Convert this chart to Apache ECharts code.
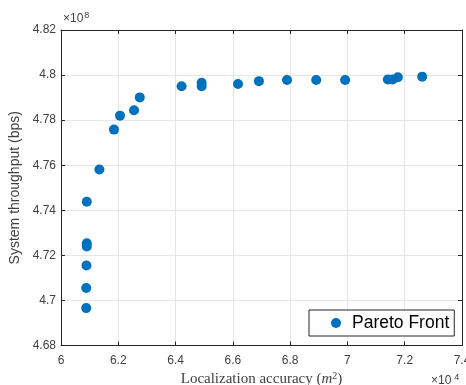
<!DOCTYPE html>
<html>
<head>
<meta charset="utf-8">
<script src="https://cdn.jsdelivr.net/npm/echarts@6/dist/echarts.min.js"></script>
<style>
  html, body { margin: 0; padding: 0; background: #fff; }
  #main { width: 466px; height: 385px; }
</style>
</head>
<body>
<div id="main"></div>
<script>
// localization accuracy (x 10^4 m^2) and throughput (x 10^8 bps)
var accuracy = [6.090, 6.090, 6.090, 6.089, 6.088, 6.088, 6.134, 6.185, 6.206, 6.255, 6.275,
                6.421, 6.491, 6.491, 6.618, 6.691, 6.789, 6.891, 6.992, 7.141, 7.158, 7.176, 7.261];
var throughput = [4.7438, 4.7254, 4.7239, 4.7155, 4.7055, 4.6966, 4.7581, 4.7758, 4.7820, 4.7844, 4.7901,
                  4.7950, 4.7966, 4.7950, 4.7960, 4.7973, 4.7978, 4.7978, 4.7978, 4.7980, 4.7980, 4.7990, 4.7993];
var xTicks = [6, 7.4, 0.2];   // min, max, step
var yTicks = [4.68, 4.82, 0.02];
var seriesName = 'Pareto Front';

var points = accuracy.map(function (x, i) { return [x, throughput[i]]; });

var myChart = echarts.init(document.getElementById('main'));
var axisCol = '#262626';
var labelCol = '#404040';
var fmt = function (v) { return String(parseFloat(v.toFixed(2))); };

var option = {
    animation: false,
    grid: { left: 61, right: 4, top: 30, bottom: 39.5, containLabel: false, outerBoundsMode: 'none' },
    xAxis: [{
        type: 'value',
        min: xTicks[0], max: xTicks[1], interval: xTicks[2],
        position: 'bottom',
        axisLine: { show: true, onZero: false, lineStyle: { color: axisCol, width: 1 } },
        axisTick: { show: true, inside: true, length: 4, lineStyle: { color: axisCol } },
        splitLine: { show: true, lineStyle: { color: '#e6e6e6', width: 1 } },
        axisLabel: { formatter: fmt, color: labelCol, fontSize: 12, margin: 9, fontFamily: 'Liberation Sans', showMaxLabel: true, showMinLabel: true },
        name: '{n|Localization accuracy (}{i|m}{s|2}{n|)}',
        nameLocation: 'middle',
        nameGap: 22,
        nameTextStyle: {
            rich: {
                n: { fontFamily: 'Liberation Serif', fontSize: 15, color: labelCol },
                i: { fontFamily: 'Liberation Serif', fontStyle: 'italic', fontSize: 15, color: labelCol },
                s: { fontFamily: 'Liberation Serif', fontSize: 10, color: labelCol, verticalAlign: 'top', padding: [0, 0, 6, 0] }
            }
        }
    }, {
        type: 'value',
        min: xTicks[0], max: xTicks[1], interval: xTicks[2],
        position: 'top',
        axisLine: { show: true, onZero: false, lineStyle: { color: axisCol, width: 1 } },
        axisTick: { show: true, inside: true, length: 4, lineStyle: { color: axisCol } },
        splitLine: { show: false },
        axisLabel: { show: false }
    }],
    yAxis: [{
        type: 'value',
        min: yTicks[0], max: yTicks[1], interval: yTicks[2],
        position: 'left',
        axisLine: { show: true, onZero: false, lineStyle: { color: axisCol, width: 1 } },
        axisTick: { show: true, inside: true, length: 4, lineStyle: { color: axisCol } },
        splitLine: { show: true, lineStyle: { color: '#e6e6e6', width: 1 } },
        axisLabel: { formatter: fmt, color: labelCol, fontSize: 12, margin: 5, fontFamily: 'Liberation Sans', showMaxLabel: true, showMinLabel: true },
        name: 'System throughput (bps)',
        nameLocation: 'middle',
        nameGap: 29,
        nameTextStyle: { fontFamily: 'Liberation Sans', fontSize: 14, color: labelCol }
    }, {
        type: 'value',
        min: yTicks[0], max: yTicks[1], interval: yTicks[2],
        position: 'right',
        axisLine: { show: true, onZero: false, lineStyle: { color: axisCol, width: 1 } },
        axisTick: { show: true, inside: true, length: 4, lineStyle: { color: axisCol } },
        splitLine: { show: false },
        axisLabel: { show: false }
    }],
    legend: {
        data: [seriesName],
        left: 309, top: 310,
        orient: 'vertical',
        icon: 'circle',
        itemWidth: 22, itemHeight: 10,
        itemGap: 0,
        padding: [4, 5, 4, 22],
        borderColor: axisCol, borderWidth: 1,
        backgroundColor: '#fff',
        textStyle: { fontFamily: 'Liberation Sans', fontSize: 17.5, color: '#000' }
    },
    graphic: [{
        type: 'text', left: 63, top: 11,
        style: { text: '{a|×10}{b|8}', rich: {
            a: { fontFamily: 'Liberation Sans', fontSize: 12, fill: labelCol },
            b: { fontFamily: 'Liberation Sans', fontSize: 9, fill: labelCol, verticalAlign: 'top', padding: [0, 0, 6, 1] }
        } }
    }, {
        type: 'text', left: 431, top: 373,
        style: { text: '{a|×10}{b|4}', rich: {
            a: { fontFamily: 'Liberation Sans', fontSize: 12, fill: labelCol },
            b: { fontFamily: 'Liberation Sans', fontSize: 9, fill: labelCol, verticalAlign: 'top', padding: [0, 0, 6, 3] }
        } }
    }],
    series: [{
        name: seriesName,
        type: 'scatter',
        symbol: 'circle',
        symbolSize: 10,
        itemStyle: { color: '#0072BD', opacity: 1 },
        data: points
    }]
};
myChart.setOption(option);
window.onresize = myChart.resize;
</script>
</body>
</html>
